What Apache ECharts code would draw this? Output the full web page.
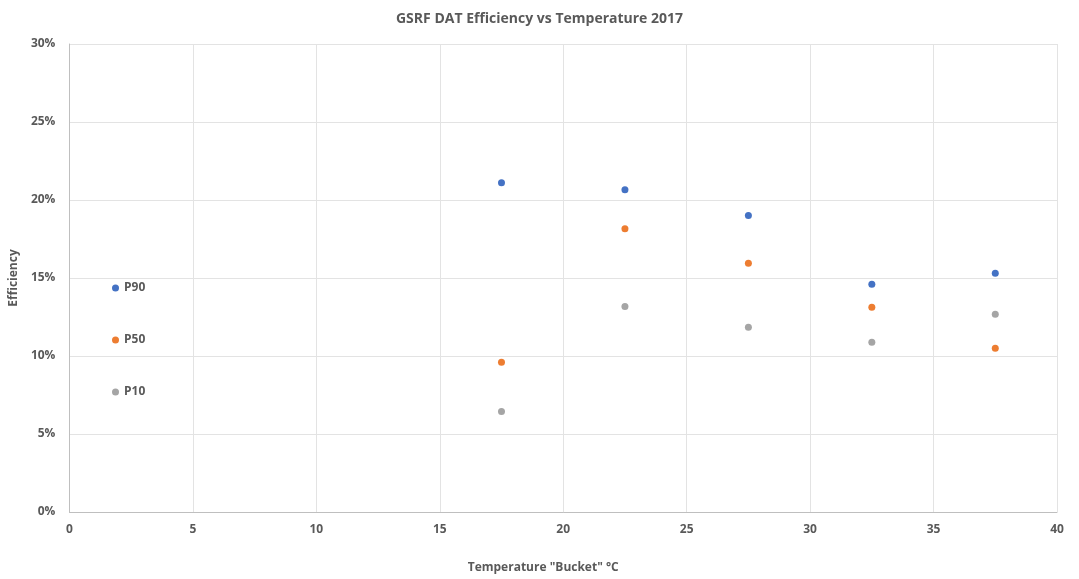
<!DOCTYPE html>
<html>
<head>
<meta charset="utf-8">
<script src="https://cdn.jsdelivr.net/npm/echarts@6/dist/echarts.min.js"></script>
<style>
  html, body { margin: 0; padding: 0; background: #fff; }
  #chart { width: 1079px; height: 579px; }
</style>
</head>
<body>
<div id="chart"></div>
<script>
// temperature buckets (°C)
const buckets = [17.5, 22.5, 27.5, 32.5, 37.5]
// efficiency (%) per percentile
const p90 = [21.1, 20.65, 19.0, 14.6, 15.3]
const p50 = [9.6, 18.15, 15.95, 13.12, 10.5]
const p10 = [6.45, 13.18, 11.85, 10.88, 12.68]

const seriesNames = ['P90', 'P50', 'P10']
const seriesColors = ['#4472C4', '#ED7D31', '#A5A5A5']
const seriesData = [p90, p50, p10]

const textColor = '#595959'
const font = 'Open Sans, Liberation Sans, sans-serif'

const chart = echarts.init(document.getElementById('chart'))

chart.setOption({
  animation: false,
  title: {
    text: 'GSRF DAT Efficiency vs Temperature 2017',
    left: 'center',
    top: 7,
    textStyle: { color: textColor, fontSize: 14, fontWeight: 'bold', fontFamily: font }
  },
  legend: {
    data: seriesNames,
    orient: 'vertical',
    left: 107,
    top: 276,
    icon: 'circle',
    itemWidth: 7,
    itemHeight: 7,
    itemGap: 38,
    textStyle: { color: textColor, fontSize: 12, fontWeight: 'bold', fontFamily: font, lineHeight: 14 }
  },
  grid: {
    left: 69,
    right: 22,
    top: 44,
    bottom: 66,
    containLabel: false
  },
  xAxis: {
    type: 'value',
    min: 0,
    max: 40,
    interval: 5,
    name: 'Temperature "Bucket" °C',
    nameLocation: 'middle',
    nameGap: 50,
    nameTextStyle: { color: textColor, fontSize: 12, fontWeight: 'bold', fontFamily: font, padding: [0, 40, 0, 0] },
    axisLine: { show: true, lineStyle: { color: '#BFBFBF' } },
    axisTick: { show: false },
    axisLabel: { color: textColor, fontSize: 12, fontWeight: 'bold', fontFamily: font, margin: 12 },
    splitLine: { show: true, lineStyle: { color: '#E3E3E3' } }
  },
  yAxis: {
    type: 'value',
    min: 0,
    max: 30,
    interval: 5,
    name: 'Efficiency',
    nameLocation: 'middle',
    nameGap: 42,
    nameTextStyle: { color: textColor, fontSize: 12, fontWeight: 'bold', fontFamily: font },
    axisLine: { show: true, lineStyle: { color: '#BFBFBF' } },
    axisTick: { show: false },
    axisLabel: { color: textColor, fontSize: 12, fontWeight: 'bold', fontFamily: font, margin: 14, formatter: '{value}%' },
    splitLine: { show: true, lineStyle: { color: '#E3E3E3' } }
  },
  series: seriesNames.map((name, i) => ({
    name: name,
    type: 'scatter',
    symbol: 'circle',
    symbolSize: 7,
    itemStyle: { color: seriesColors[i], opacity: 1 },
    data: buckets.map((b, j) => [b, seriesData[i][j]])
  }))
})
</script>
</body>
</html>
